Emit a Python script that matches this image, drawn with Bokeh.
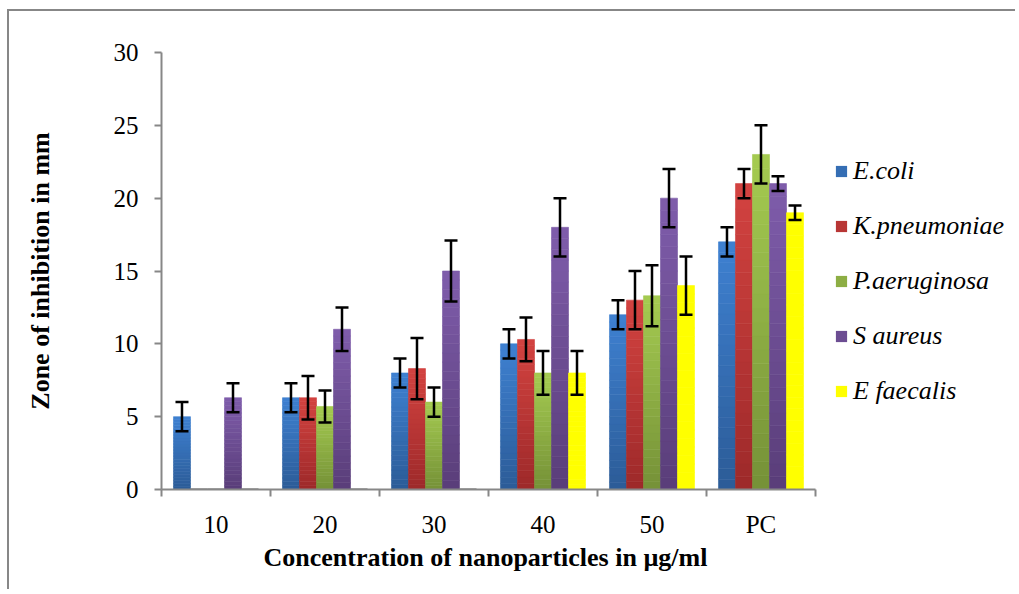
from bokeh.plotting import figure
from bokeh.models import Range1d, FixedTicker, Whisker, ColumnDataSource, Legend, LegendItem, TeeHead, Title
from bokeh.embed import file_html
from bokeh.resources import INLINE

# ---- data ----
concentrations = ["10", "20", "30", "40", "50", "PC"]
series_names = ["E.coli", "K.pneumoniae", "P.aeruginosa", "S aureus", "E faecalis"]
ecoli = [5.0, 6.3, 8.0, 10.0, 12.0, 17.0]
kpneu = [0.0, 6.3, 8.3, 10.3, 13.0, 21.0]
paer = [0.0, 5.7, 6.0, 8.0, 13.3, 23.0]
saur = [6.3, 11.0, 15.0, 18.0, 20.0, 21.0]
efae = [0.0, 0.0, 0.0, 8.0, 14.0, 19.0]
ecoli_err = [1.0, 1.0, 1.0, 1.0, 1.0, 1.0]
kpneu_err = [0.0, 1.5, 2.1, 1.5, 2.0, 1.0]
paer_err = [0.0, 1.1, 1.0, 1.5, 2.1, 2.0]
saur_err = [1.0, 1.5, 2.1, 2.0, 2.0, 0.5]
efae_err = [0.0, 0.0, 0.0, 1.5, 2.0, 0.5]
x_title = "Concentration of nanoparticles in µg/ml"
y_title = "Zone of inhibition in mm"

values = [ecoli, kpneu, paer, saur, efae]
errors = [ecoli_err, kpneu_err, paer_err, saur_err, efae_err]
top_colors = [(62, 128, 208), (210, 66, 64), (164, 202, 80), (126, 92, 170), (255, 255, 0)]
bot_colors = [(44, 92, 152), (158, 42, 42), (118, 146, 56), (90, 62, 122), (255, 255, 0)]

FONT = "Liberation Serif"
GRAY = "#878787"

W, H = 1008, 580
BL, BR, BT, BB = 152, 0, 41, 102
n = len(concentrations)
frame_w = W - BL - BR
axis_px = 654  # pixel length of the category axis
x_end = n * frame_w / axis_px

p = figure(width=W, height=H, output_backend="svg", toolbar_location=None,
           x_range=Range1d(0, x_end), y_range=Range1d(0, 30),
           min_border_left=BL, min_border_right=BR, min_border_top=BT, min_border_bottom=BB,
           styles={"border-top": "2px solid #878787", "border-left": "2px solid #878787",
                   "margin-left": "7px", "margin-top": "9px"})
p.outline_line_color = None
p.xgrid.visible = False
p.ygrid.visible = False

bw = 0.156
nslices = 24


def mix(c1, c2, t):
    return "#%02x%02x%02x" % tuple(int(round(a + (b - a) * t)) for a, b in zip(c1, c2))


legend_items = []
for j, (vals, errs) in enumerate(zip(values, errors)):
    xs = [i + 0.5 + (j - 2) * bw for i in range(n)]
    sx, sb, st, sc = [], [], [], []
    for x, v in zip(xs, vals):
        if v <= 0:
            continue
        for k in range(nslices):
            t = k / (nslices - 1)
            sx.append(x)
            sb.append(v * k / nslices)
            st.append(v * (k + 1) / nslices)
            sc.append(mix(bot_colors[j], top_colors[j], t))
    src = ColumnDataSource(dict(x=sx, bottom=sb, top=st, color=sc))
    p.vbar(x="x", bottom="bottom", top="top", width=bw, fill_color="color", line_color="color",
           line_width=0.6, source=src)
    zx = [x for x, v in zip(xs, vals) if v <= 0]
    if zx:
        p.segment(x0=[x - bw / 2 for x in zx], x1=[x + bw / 2 for x in zx], y0=[0] * len(zx), y1=[0] * len(zx),
                  line_color="#5a5a5a", line_width=2)
    ex = [x for x, v in zip(xs, vals) if v > 0]
    eu = [v + e for v, e in zip(vals, errs) if v > 0]
    el = [v - e for v, e in zip(vals, errs) if v > 0]
    esrc = ColumnDataSource(dict(x=ex, upper=eu, lower=el))
    w = Whisker(base="x", upper="upper", lower="lower", source=esrc, dimension="height",
                line_color="black", line_width=2.5, level="overlay",
                upper_head=TeeHead(size=13, line_color="black", line_width=2.5),
                lower_head=TeeHead(size=13, line_color="black", line_width=2.5))
    p.add_layout(w)
    mid = mix(bot_colors[j], top_colors[j], 0.5)
    r = p.vbar(x=[-10], top=[1], width=0.1, fill_color=mid, line_color=None)
    legend_items.append(LegendItem(label=series_names[j], renderers=[r]))

legend = Legend(items=legend_items, location=(673, 83), orientation="vertical",
                background_fill_alpha=0, border_line_color=None, padding=0, margin=0,
                label_text_font=FONT, label_text_font_style="italic", label_text_font_size="26px",
                label_text_color="black", glyph_width=14, glyph_height=14, label_height=26,
                spacing=25, label_standoff=5)
p.add_layout(legend, "center")

# axes
p.xaxis.bounds = (0, n)
p.xaxis.ticker = FixedTicker(ticks=[i + 0.5 for i in range(n)], minor_ticks=list(range(n + 1)))
p.xaxis.major_label_overrides = {i + 0.5: c for i, c in enumerate(concentrations)}
p.xaxis.major_tick_out = 0
p.xaxis.major_tick_in = 0
p.xaxis.minor_tick_out = 7
p.xaxis.minor_tick_in = 0
p.xaxis.minor_tick_line_color = GRAY
p.xaxis.minor_tick_line_width = 2
p.xaxis.major_label_standoff = 14

# x-axis title centred under the category axis (not the whole frame)
xt = Title(text=x_title, align="left", offset=102, standoff=0,
           text_font=FONT, text_font_size="26px", text_font_style="bold", text_color="black")
p.add_layout(xt, "below")

p.yaxis.ticker = FixedTicker(ticks=[0, 5, 10, 15, 20, 25, 30])
p.yaxis.minor_tick_line_color = None
p.yaxis.major_tick_out = 7
p.yaxis.major_tick_in = 0
p.yaxis.major_tick_line_color = GRAY
p.yaxis.major_tick_line_width = 2
p.yaxis.major_label_standoff = 16
p.yaxis.axis_label = y_title
p.yaxis.axis_label_standoff = 56

for ax in (p.xaxis, p.yaxis):
    ax.axis_line_color = GRAY
    ax.axis_line_width = 2
    ax.major_label_text_font = FONT
    ax.major_label_text_font_size = "25px"
    ax.major_label_text_color = "black"
    ax.axis_label_text_font = FONT
    ax.axis_label_text_font_size = "26px"
    ax.axis_label_text_font_style = "bold"
    ax.axis_label_text_color = "black"

open("out.html", "w").write(file_html(p, INLINE))
